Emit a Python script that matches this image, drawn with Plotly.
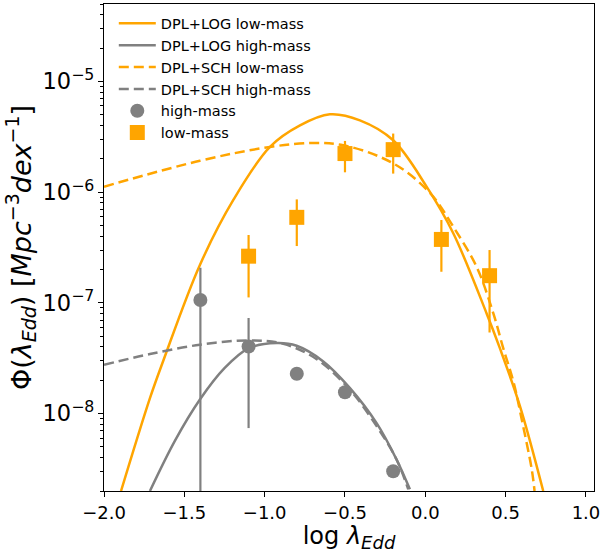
import numpy as np
import plotly.graph_objects as go

# ---- model curves ----
log_low_x = [-1.894, -1.714, -1.631, -1.403, -1.195, -0.967, -0.78, -0.594,
             -0.407, -0.2, 0.008, 0.174, 0.381, 0.464, 0.589, 0.734]
log_low_y = [2.0e-9, 1.38e-8, 3.0e-8, 2.2e-7, 8.5e-7, 2.56e-6, 4.0e-6, 5.04e-6,
             4.45e-6, 2.94e-6, 1.12e-6, 4.25e-7, 8.07e-8, 3.9e-8, 1.17e-8, 2.0e-9]

log_high_x = [-1.714, -1.558, -1.403, -1.25, -1.098, -0.925, -0.801, -0.635, -0.469, -0.303, -0.179, -0.096]
log_high_y = [2.0e-9, 5.7e-9, 1.34e-8, 2.57e-8, 3.9e-8, 4.33e-8, 4.1e-8, 2.96e-8, 1.7e-8, 8.2e-9, 3.85e-9, 2.07e-9]

sch_low_x = [-2.0, -1.403, -0.967, -0.697, -0.511, -0.282, -0.116, 0.049, 0.174, 0.319, 0.423, 0.485,
             0.55, 0.60, 0.663, 0.68]
sch_low_y = [1.12e-6, 1.92e-6, 2.56e-6, 2.78e-6, 2.65e-6, 2.08e-6, 1.52e-6, 9.1e-7, 4.87e-7, 2.12e-7,
             8.07e-8, 3.9e-8, 1.9e-8, 8.9e-9, 3.1e-9, 2.0e-9]

sch_high_x = [-2.0, -1.714, -1.403, -1.098, -0.884, -0.676, -0.469, -0.303, -0.179, -0.106]
sch_high_y = [2.76e-8, 3.45e-8, 4.19e-8, 4.58e-8, 4.27e-8, 3.1e-8, 1.64e-8, 7.7e-9, 3.85e-9, 2.07e-9]

# ---- data points ----
high_x = [-1.4, -1.1, -0.8, -0.5, -0.2]
high_y = [1.06e-7, 4.04e-8, 2.29e-8, 1.56e-8, 3.02e-9]
high_hi = [2.08e-7, 7.3e-8, 2.29e-8, 1.56e-8, 3.02e-9]
high_lo = [1e-10, 7.4e-9, 2.29e-8, 1.56e-8, 3.02e-9]

low_x = [-1.1, -0.8, -0.5, -0.2, 0.1, 0.4]
low_y = [2.64e-7, 5.92e-7, 2.23e-6, 2.42e-6, 3.74e-7, 1.76e-7]
low_hi = [4.1e-7, 8.6e-7, 2.9e-6, 3.38e-6, 5.6e-7, 3.0e-7]
low_lo = [1.12e-7, 3.26e-7, 1.51e-6, 1.47e-6, 1.91e-7, 5.4e-8]

ORANGE = "#FFA500"
GRAY = "#808080"
LW = 2.5
DASH = "10px,5px"

fig = go.Figure()
fig.add_trace(go.Scatter(x=log_low_x, y=log_low_y, mode="lines", line=dict(color=ORANGE, width=LW, shape="spline"),
                         name="DPL+LOG low-mass"))
fig.add_trace(go.Scatter(x=log_high_x, y=log_high_y, mode="lines", line=dict(color=GRAY, width=LW, shape="spline"),
                         name="DPL+LOG high-mass"))
fig.add_trace(go.Scatter(x=sch_low_x, y=sch_low_y, mode="lines",
                         line=dict(color=ORANGE, width=LW, dash=DASH, shape="spline"), name="DPL+SCH low-mass"))
fig.add_trace(go.Scatter(x=sch_high_x, y=sch_high_y, mode="lines",
                         line=dict(color=GRAY, width=LW, dash=DASH, shape="spline"), name="DPL+SCH high-mass"))

hp = [h - y for h, y in zip(high_hi, high_y)]
hm = [y - l for l, y in zip(high_lo, high_y)]
fig.add_trace(go.Scatter(x=high_x, y=high_y, mode="markers", name="high-mass",
                         marker=dict(symbol="circle", size=14, color=GRAY),
                         error_y=dict(type="data", array=hp, arrayminus=hm, color=GRAY, thickness=2.2, width=0)))
lp = [h - y for h, y in zip(low_hi, low_y)]
lm = [y - l for l, y in zip(low_lo, low_y)]
fig.add_trace(go.Scatter(x=low_x, y=low_y, mode="markers", name="low-mass",
                         marker=dict(symbol="square", size=15, color=ORANGE),
                         error_y=dict(type="data", array=lp, arrayminus=lm, color=ORANGE, thickness=2.2, width=0)))

FONT = "DejaVu Sans"
SSX = "<span style='font-size:18px'>{}</span>"
SSY = "<span style='font-size:19px'>{}</span>"
xtitle = "log <i>λ</i><sub><i>" + SSX.format("Edd") + "</i></sub>"
ytitle = ("Φ(<i>λ</i><sub><i>" + SSY.format("Edd") + "</i></sub>) [<i>Mpc</i><sup>" + SSY.format("−3")
          + "</sup><i>dex</i><sup>" + SSY.format("−1") + "</sup>]")

fig.update_layout(
    width=603, height=553,
    margin=dict(l=104, r=9, t=4, b=62),
    paper_bgcolor="white", plot_bgcolor="white",
    font=dict(family=FONT, color="black", size=18),
    showlegend=True,
    legend=dict(x=0.02, y=0.993, xanchor="left", yanchor="top", bgcolor="rgba(255,255,255,0)",
                font=dict(size=14.5, family=FONT), borderwidth=0, itemwidth=37),
)
fig.update_xaxes(range=[-2.0, 1.05], tick0=-2.0, dtick=0.5, tickformat=".1f",
                 ticks="outside", ticklen=5, tickwidth=1, tickcolor="black",
                 showline=True, linecolor="black", linewidth=1, mirror=True, showgrid=False, zeroline=False,
                 tickfont=dict(size=18),
                 title=dict(text=xtitle, font=dict(size=24), standoff=5))
fig.update_yaxes(type="log", range=[np.log10(2e-9), np.log10(5e-5)], dtick=1, exponentformat="power",
                 showexponent="all",
                 ticks="outside", ticklen=5, tickwidth=1, tickcolor="black",
                 minor=dict(ticks="outside", ticklen=3, tickwidth=1, tickcolor="black", dtick="D1", showgrid=False),
                 showline=True, linecolor="black", linewidth=1, mirror=True, showgrid=False, zeroline=False,
                 tickfont=dict(size=18),
                 title=dict(text=ytitle, font=dict(size=27), standoff=3))

fig.write_html("out.html")
